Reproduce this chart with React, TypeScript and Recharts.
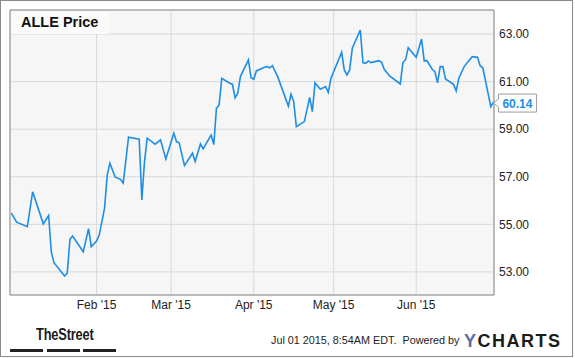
import React from "react";
import {
  LineChart,
  Line,
  XAxis,
  YAxis,
  CartesianGrid,
  ReferenceArea,
  ReferenceDot,
} from "recharts";

// days since Jan 1 2015
const days = [
  -1, 1, 5, 7, 11, 13, 14, 15, 19, 20, 21, 22, 26, 28, 29, 31, 32, 34, 35, 36,
  38, 40, 41, 43, 47, 48, 49, 50, 53, 55, 57, 60, 61, 62, 64, 67, 68, 70, 71,
  74, 75, 76, 77, 78, 81, 82, 83, 84, 85, 88, 89, 90, 91, 94, 95, 96, 97, 99,
  103, 104, 105, 106, 109, 111, 112, 113, 115, 117, 118, 119, 123, 124, 125,
  126, 127, 130, 131, 132, 133, 134, 137, 138, 139, 141, 145, 146, 147, 148,
  151, 153, 154, 155, 157, 158, 159, 160, 161, 162, 165, 166, 167, 169, 172,
  174, 175, 176, 179, 180,
];

const prices = [
  55.47, 55.09, 54.9, 56.37, 55.02, 55.37, 53.85, 53.39, 52.83, 52.95, 54.37,
  54.51, 53.85, 54.82, 54.06, 54.3, 54.55, 55.68, 57.08, 57.57, 56.98, 56.89,
  56.73, 58.66, 58.58, 56.03, 57.64, 58.62, 58.37, 58.55, 57.75, 58.83, 58.48,
  58.43, 57.47, 57.99, 57.64, 58.38, 58.17, 58.75, 58.35, 59.88, 60.02, 61.14,
  60.93, 60.89, 60.32, 60.51, 61.21, 61.91, 61.16, 61.1, 61.45, 61.6, 61.63,
  61.58, 61.67, 61.21, 59.97, 60.47, 60.16, 59.11, 59.32, 60.34, 59.74, 60.95,
  60.68, 60.79, 60.55, 61.14, 62.23, 61.49, 61.28, 61.49, 62.4, 63.17, 61.8,
  61.77, 61.87, 61.8, 61.88, 61.81, 61.52, 61.24, 60.9, 61.8, 61.92, 62.42,
  62.02, 62.79, 61.87, 61.88, 61.52, 61.42, 60.95, 61.63, 61.63, 61.11, 60.89,
  60.61, 61.14, 61.63, 62.05, 62.02, 61.67, 61.58, 59.95, 60.14,
];

const monthTicks = [31, 59, 90, 120, 151];
const monthLabels = ["Feb '15", "Mar '15", "Apr '15", "May '15", "Jun '15"];
const priceTicks = [53, 55, 57, 59, 61, 63];

const xDomain = [-1.5, 180.2];
const yDomain = [52.03, 64.01];

const data = days.map((d, i) => ({ day: d, price: prices[i] }));
const last = data[data.length - 1];

const FONT = '"Liberation Sans", Arial, sans-serif';
const BLUE = "#1e8de6";

function LastPriceTag(props: any) {
  const { cx, cy } = props;
  if (cx == null || cy == null) return null;
  const bx = cx + 5;
  const top = cy - 8;
  const w = 38;
  const h = 18;
  const mid = cy + 1;
  return (
    <g>
      <path
        d={`M${bx} ${top} L${bx + w} ${top} L${bx + w} ${top + h} L${bx} ${top + h} L${bx} ${mid + 4} L${cx} ${mid} L${bx} ${mid - 4} Z`}
        fill="#fff"
        stroke="#9a9a9a"
      />
      <text
        x={bx + w / 2}
        y={cy + 5.5}
        textAnchor="middle"
        fontFamily={FONT}
        fontSize={12}
        fontWeight="bold"
        fill={BLUE}
      >
        {last.price.toFixed(2)}
      </text>
    </g>
  );
}

export default function App() {
  return (
    <div
      style={{
        position: "absolute",
        left: 0,
        top: 0,
        width: 575,
        height: 358,
        background: "#fff",
        fontFamily: FONT,
      }}
    >
      <LineChart
        width={575}
        height={358}
        data={data}
        margin={{ top: 10, right: 11, left: 10, bottom: 33 }}
      >
        <CartesianGrid stroke="#d9d9d9" fill="#f6f6f6" />
        <XAxis
          dataKey="day"
          type="number"
          domain={xDomain}
          ticks={monthTicks}
          tickFormatter={(v) => monthLabels[monthTicks.indexOf(v)] ?? ""}
          tick={{ fontSize: 12, fill: "#222", fontFamily: FONT }}
          tickLine={false}
          axisLine={false}
          tickSize={3}
          tickMargin={2}
          height={30}
          allowDataOverflow
        />
        <YAxis
          orientation="right"
          type="number"
          domain={yDomain}
          ticks={priceTicks}
          tickFormatter={(v) => v.toFixed(2)}
          tick={{ fontSize: 12, fill: "#222", fontFamily: FONT }}
          tickLine={false}
          axisLine={false}
          tickSize={3}
          tickMargin={2}
          width={70}
          allowDataOverflow
        />
        <ReferenceArea
          x1={xDomain[0]}
          x2={xDomain[1]}
          y1={yDomain[0]}
          y2={yDomain[1]}
          fill="none"
          stroke="#8c8c8c"
          strokeOpacity={1}
          ifOverflow="visible"
        />
        <Line
          type="linear"
          dataKey="price"
          stroke={BLUE}
          strokeWidth={1.6}
          dot={false}
          isAnimationActive={false}
        />
        <ReferenceDot
          x={last.day}
          y={last.price}
          r={0}
          ifOverflow="visible"
          shape={(p: any) => <LastPriceTag {...p} />}
        />
      </LineChart>

      {/* title box */}
      <div
        style={{
          position: "absolute",
          left: 11,
          top: 11,
          width: 98,
          height: 23,
          background: "#fafafa",
          fontSize: 14.5,
          fontWeight: "bold",
          color: "#111",
          lineHeight: "23px",
          paddingLeft: 10,
          boxSizing: "border-box",
          whiteSpace: "nowrap",
        }}
      >
        ALLE Price
      </div>

      {/* outer frame */}
      <div
        style={{
          position: "absolute",
          left: 0,
          top: 0,
          width: 573,
          height: 357,
          border: "1px solid #8a8a8a",
          boxSizing: "border-box",
          pointerEvents: "none",
        }}
      />

      {/* TheStreet logo */}
      <div
        style={{
          position: "absolute",
          left: 36,
          top: 325,
          fontSize: 16,
          lineHeight: "20px",
          fontWeight: "bold",
          color: "#1a1a1a",
          transform: "scaleX(0.8)",
          transformOrigin: "left top",
          letterSpacing: -0.2,
          whiteSpace: "nowrap",
        }}
      >
        TheStreet
      </div>
      {[10, 47, 83].map((x) => (
        <div
          key={x}
          style={{
            position: "absolute",
            left: x,
            top: 349,
            width: 33,
            height: 3,
            background: "#222",
          }}
        />
      ))}

      {/* footer */}
      <div
        style={{
          position: "absolute",
          left: 271,
          top: 334,
          fontSize: 10.8,
          color: "#222",
          whiteSpace: "pre",
        }}
      >
        {"Jul 01 2015, 8:54AM EDT.  Powered by"}
      </div>
      <div
        style={{
          position: "absolute",
          left: 464,
          top: 331,
          fontSize: 18,
          fontWeight: "bold",
          letterSpacing: 1.5,
          color: "#1b1b1b",
          whiteSpace: "nowrap",
        }}
      >
        <span style={{ color: "#5a6ea8" }}>Y</span>CHARTS
      </div>
    </div>
  );
}
